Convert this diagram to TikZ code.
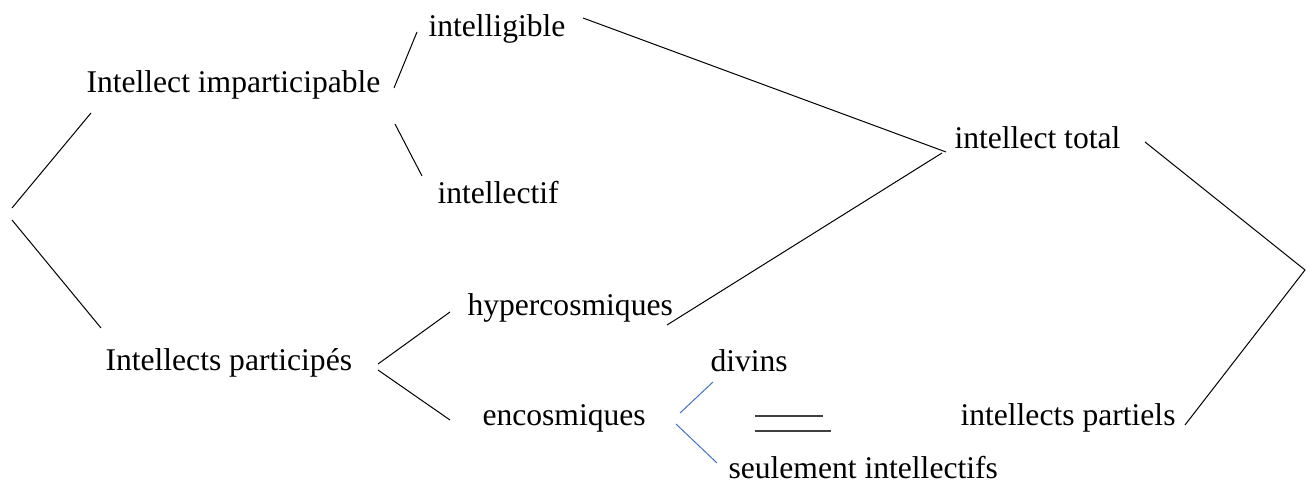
\documentclass[tikz,border=0pt]{standalone}
\usepackage{fontspec}
\setmainfont{Liberation Serif}
\usepackage{tikz}
\usetikzlibrary{arrows}
\definecolor{branchblue}{HTML}{4472C4}
\definecolor{eqgray}{HTML}{404040}

\begin{document}
\begin{tikzpicture}[x=0.75pt,y=-0.75pt,line width=0.75pt]
  \tikzstyle{term}=[anchor=base west,inner sep=0pt,
    font=\fontsize{23.7pt}{28pt}\selectfont]
  \tikzstyle{blueline}=[draw=branchblue]
  \tikzstyle{eqline}=[draw=eqgray,line width=1.2pt]
  \useasboundingbox (0,0) rectangle (1311,484);
  \node[term] (imp) at (86,93) {Intellect imparticipable};
  \node[term] (intg) at (428,37) {intelligible};
  \node[term] (intf) at (437,204) {intellectif};
  \node[term] (part) at (105,371) {Intellects participés};
  \node[term] (hyper) at (467,316) {hypercosmiques};
  \node[term] (enc) at (482,426) {encosmiques};
  \node[term] (div) at (710,372) {divins};
  \node[term] (seul) at (728,479) {seulement intellectifs};
  \node[term] (tot) at (954,149) {intellect total};
  \node[term] (ptl) at (960,426) {intellects partiels};
  % line ends
  \coordinate (a1) at (91,113);   \coordinate (a2) at (12,208);
  \coordinate (a3) at (12,220);   \coordinate (a4) at (101,328);
  \coordinate (b1) at (394,88);   \coordinate (b2) at (417,32);
  \coordinate (b3) at (395,124);  \coordinate (b4) at (422,176);
  \coordinate (c1) at (378,364);  \coordinate (c2) at (450,312);
  \coordinate (c3) at (378,370);  \coordinate (c4) at (450,420);
  \coordinate (d1) at (583,18);   \coordinate (d2) at (946,152);
  \coordinate (d3) at (667,325);  \coordinate (d4) at (942,153);
  \coordinate (e1) at (1145,142); \coordinate (e2) at (1305,270);
  \coordinate (e3) at (1185,425);
  \coordinate (f1) at (680,413);  \coordinate (f2) at (713,382);
  \coordinate (f3) at (676,424);  \coordinate (f4) at (717,463);
  \coordinate (g1) at (755,416);  \coordinate (g2) at (823,416);
  \coordinate (g3) at (755,431);  \coordinate (g4) at (831,431);
  \draw
        (a1) edge (a2)
        (a3) edge (a4)
        (b1) edge (b2)
        (b3) edge (b4)
        (c1) edge (c2)
        (c3) edge (c4)
        (d1) edge (d2)
        (d3) edge (d4);
  \draw (e1) -- (e2) -- (e3);
  \draw[blueline]
        (f1) edge (f2)
        (f3) edge (f4);
  \draw[eqline]
        (g1) edge (g2)
        (g3) edge (g4);
\end{tikzpicture}
\end{document}
